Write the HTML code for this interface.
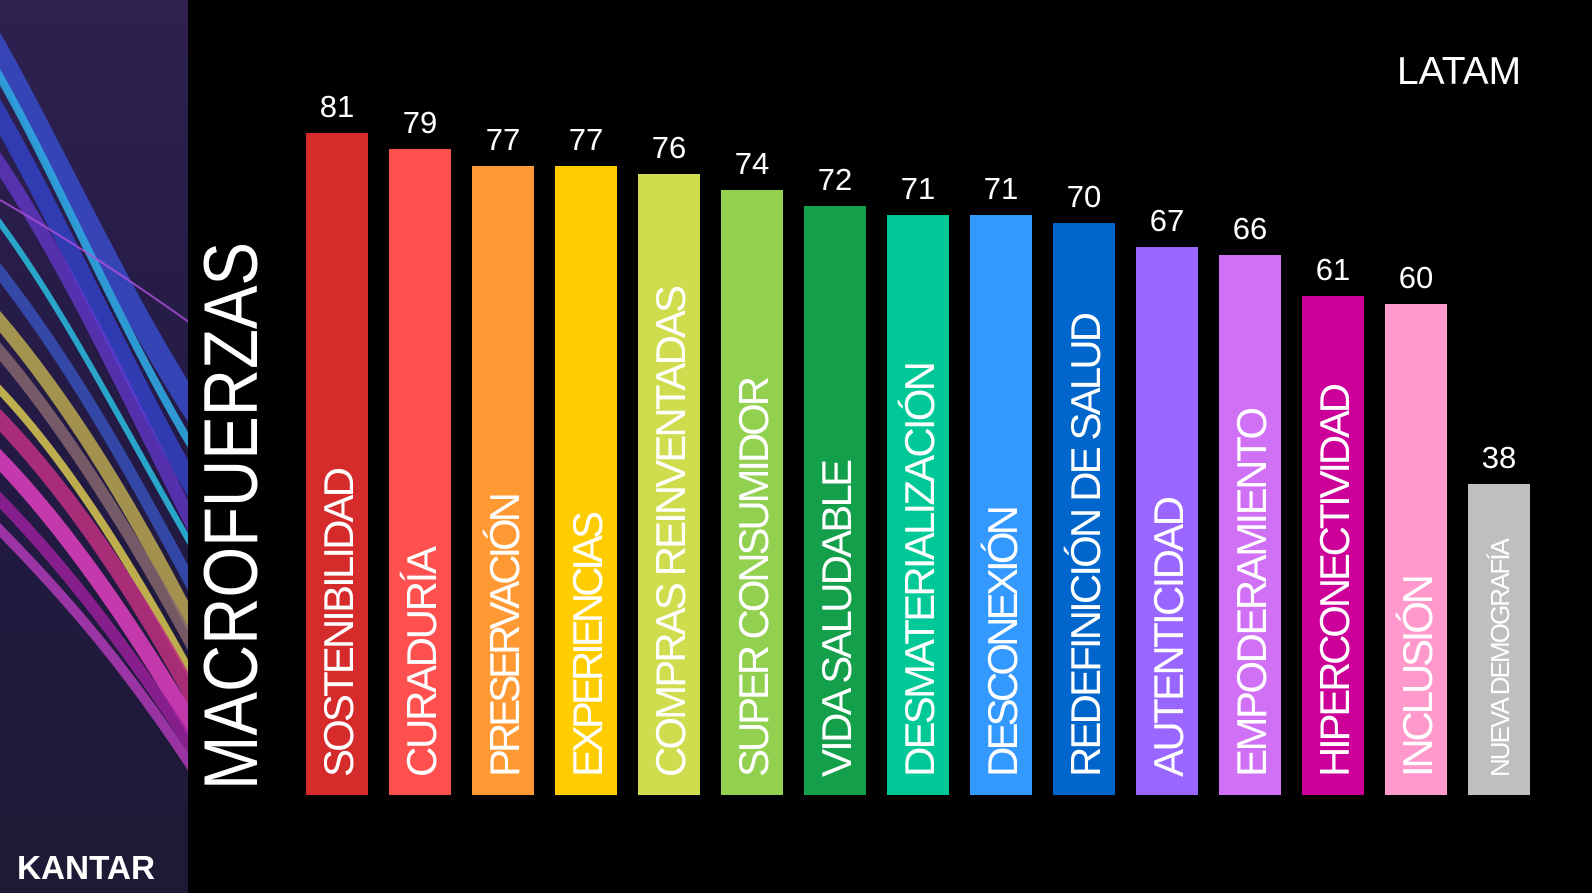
<!DOCTYPE html>
<html><head><meta charset="utf-8"><style>
html,body{margin:0;padding:0;background:#000;}
svg{display:block}
</style></head><body>
<svg width="1592" height="893" viewBox="0 0 1592 893" xmlns="http://www.w3.org/2000/svg">
<defs>
<linearGradient id="bg" x1="0" y1="0" x2="0" y2="1">
<stop offset="0" stop-color="#2e2150"/><stop offset="0.5" stop-color="#231a44"/><stop offset="1" stop-color="#1c1a34"/>
</linearGradient>
<clipPath id="side"><rect x="0" y="0" width="188" height="893"/></clipPath>
</defs>
<rect width="1592" height="893" fill="#000"/>
<rect x="0" y="0" width="188" height="893" fill="url(#bg)"/>
<g fill="none" stroke-linecap="butt" clip-path="url(#side)">
<path d="M-20 20 C40 120 120 300 200 420" stroke="#3a4fd0" stroke-width="22" opacity="0.8"/>
<path d="M-10 60 C50 160 120 330 200 460" stroke="#2fa6e0" stroke-width="8" opacity="0.9"/>
<path d="M-10 100 C50 200 120 360 200 500" stroke="#3344cc" stroke-width="18" opacity="0.8"/>
<path d="M-10 150 C60 250 130 400 200 540" stroke="#6a3ad8" stroke-width="14" opacity="0.7"/>
<path d="M-10 210 C60 300 130 440 200 560" stroke="#2ab5d8" stroke-width="6" opacity="0.9"/>
<path d="M-10 260 C70 360 130 470 200 600" stroke="#3b5bd0" stroke-width="12" opacity="0.7"/>
<path d="M-10 310 C60 390 130 500 200 640" stroke="#b8a850" stroke-width="14" opacity="0.85"/>
<path d="M-10 340 C60 420 130 530 200 660" stroke="#8b6a70" stroke-width="12" opacity="0.8"/>
<path d="M-10 380 C60 450 130 560 200 690" stroke="#d8c850" stroke-width="8" opacity="0.85"/>
<path d="M-10 410 C60 480 130 580 200 710" stroke="#c03080" stroke-width="16" opacity="0.85"/>
<path d="M-10 450 C60 520 130 620 200 740" stroke="#e040c0" stroke-width="16" opacity="0.85"/>
<path d="M-10 490 C60 560 130 650 200 760" stroke="#a020a0" stroke-width="12" opacity="0.8"/>
<path d="M-10 520 C60 590 130 670 200 780" stroke="#d040d0" stroke-width="10" opacity="0.7"/>
<path d="M0 200 C70 240 130 280 200 330" stroke="#b050e0" stroke-width="2" opacity="0.8"/>
</g>
<text x="17" y="879" fill="#fff" font-family="Liberation Sans, sans-serif" font-weight="bold" font-size="33" textLength="138" lengthAdjust="spacingAndGlyphs">KANTAR</text>
<text transform="translate(257,790) rotate(-90)" fill="#fff" font-family="Liberation Sans Narrow, Liberation Sans, sans-serif" font-size="76" textLength="548" lengthAdjust="spacingAndGlyphs">MACROFUERZAS</text>
<text x="1397" y="84" fill="#fff" font-family="Liberation Sans, sans-serif" font-size="39" textLength="124" lengthAdjust="spacingAndGlyphs">LATAM</text>
<g font-family="Liberation Sans, sans-serif">
<rect x="306" y="133" width="62" height="662" fill="#d52b2b"/>
<rect x="389" y="149" width="62" height="646" fill="#ff5050"/>
<rect x="472" y="166" width="62" height="629" fill="#ff9933"/>
<rect x="555" y="166" width="62" height="629" fill="#ffcc00"/>
<rect x="638" y="174" width="62" height="621" fill="#cfdc4e"/>
<rect x="721" y="190" width="62" height="605" fill="#92d050"/>
<rect x="804" y="206" width="62" height="589" fill="#14a04a"/>
<rect x="887" y="215" width="62" height="580" fill="#00c896"/>
<rect x="970" y="215" width="62" height="580" fill="#3399ff"/>
<rect x="1053" y="223" width="62" height="572" fill="#0066cc"/>
<rect x="1136" y="247" width="62" height="548" fill="#9966ff"/>
<rect x="1219" y="255" width="62" height="540" fill="#d070f5"/>
<rect x="1302" y="296" width="62" height="499" fill="#cc0099"/>
<rect x="1385" y="304" width="62" height="491" fill="#ff99cc"/>
<rect x="1468" y="484" width="62" height="311" fill="#bfbfbf"/>
<g fill="#fff" font-size="31" text-anchor="middle">
<text x="337" y="117">81</text><text x="420" y="133">79</text><text x="503" y="150">77</text><text x="586" y="150">77</text><text x="669" y="158">76</text><text x="752" y="174">74</text><text x="835" y="190">72</text><text x="918" y="199">71</text><text x="1001" y="199">71</text><text x="1084" y="207">70</text><text x="1167" y="231">67</text><text x="1250" y="239">66</text><text x="1333" y="280">61</text><text x="1416" y="288">60</text><text x="1499" y="468">38</text>
</g>
<g fill="#fff" font-family="Liberation Sans Narrow, Liberation Sans, sans-serif" font-size="42" lengthAdjust="spacingAndGlyphs">
<text transform="translate(353,777) rotate(-90)" textLength="310">SOSTENIBILIDAD</text>
<text transform="translate(436,777) rotate(-90)" textLength="231">CURADURÍA</text>
<text transform="translate(519,777) rotate(-90)" textLength="285">PRESERVACIÓN</text>
<text transform="translate(602,777) rotate(-90)" textLength="266">EXPERIENCIAS</text>
<text transform="translate(685,777) rotate(-90)" textLength="492">COMPRAS REINVENTADAS</text>
<text transform="translate(768,777) rotate(-90)" textLength="401">SUPER CONSUMIDOR</text>
<text transform="translate(851,777) rotate(-90)" textLength="318">VIDA SALUDABLE</text>
<text transform="translate(934,777) rotate(-90)" textLength="416">DESMATERIALIZACIÓN</text>
<text transform="translate(1017,777) rotate(-90)" textLength="272">DESCONEXIÓN</text>
<text transform="translate(1100,777) rotate(-90)" textLength="465">REDEFINICIÓN DE SALUD</text>
<text transform="translate(1183,777) rotate(-90)" textLength="281">AUTENTICIDAD</text>
<text transform="translate(1266,777) rotate(-90)" textLength="370">EMPODERAMIENTO</text>
<text transform="translate(1349,777) rotate(-90)" textLength="394">HIPERCONECTIVIDAD</text>
<text transform="translate(1432,777) rotate(-90)" textLength="203">INCLUSIÓN</text>
<text transform="translate(1509,777) rotate(-90)" font-size="26" textLength="239">NUEVA DEMOGRAFÍA</text>
</g>
</g>
</svg>
</body></html>
